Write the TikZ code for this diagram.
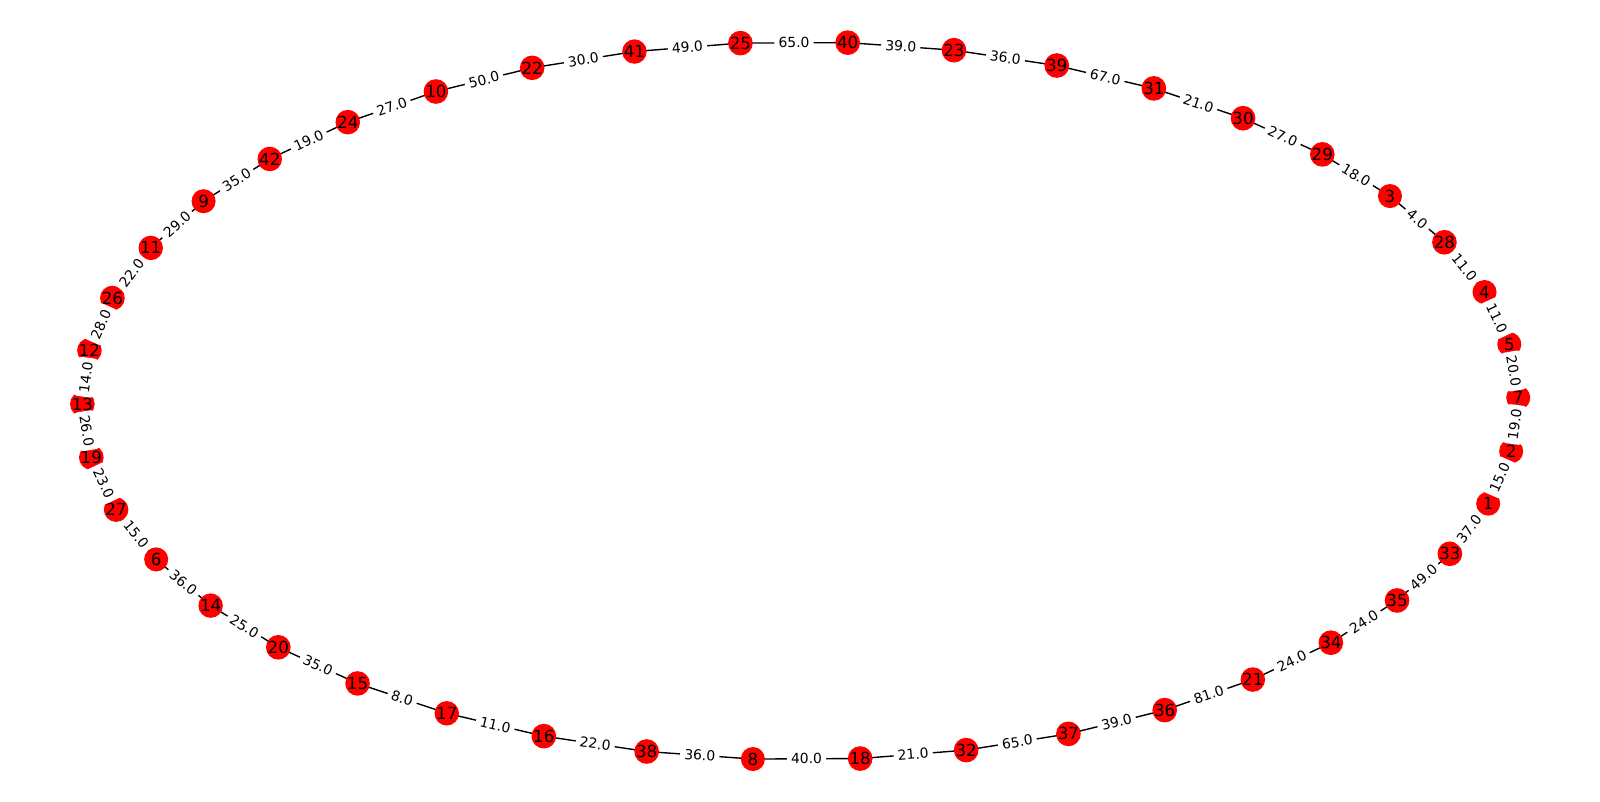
\documentclass[tikz,border=0pt]{standalone}
\usepackage{fontspec}
\setmainfont{DejaVu Sans}
\pgfdeclarelayer{bg}
\pgfsetlayers{bg,main}
\tikzset{
  vert/.style={circle, fill=red, draw=none, minimum size=17.32pt, inner sep=0pt, font=\fontsize{12}{14}\selectfont, text=black},
  edgeline/.style={draw=black, line width=1pt},
  elab/.style={fill=white, rounded corners=2pt, inner sep=3pt, font=\fontsize{10}{12}\selectfont, text=black, sloped, midway}
}
\begin{document}
\begin{tikzpicture}[x=0.72pt, y=0.72pt]
\useasboundingbox (0,0) rectangle (1600,802);
\foreach \lab [count=\k from 0] in {7,5,4,28,3,29,30,31,39,23,40,25,41,22,10,24,42,9,11,26,12,13,19,27,6,14,20,15,17,16,38,8,18,32,37,36,21,34,35,33,1,2}
  \node[vert] (n\lab) at ({800.3+718*cos(0.5+\k*360/42)}, {401.15+359*sin(0.5+\k*360/42)}) {\lab};
\begin{pgfonlayer}{bg}
\foreach \a/\b/\w in {7/5/20.0, 5/4/11.0, 4/28/11.0, 28/3/4.0, 3/29/18.0, 29/30/27.0, 30/31/21.0, 31/39/67.0, 39/23/36.0, 23/40/39.0, 40/25/65.0, 25/41/49.0, 41/22/30.0, 22/10/50.0, 10/24/27.0, 24/42/19.0, 42/9/35.0, 9/11/29.0, 11/26/22.0, 26/12/28.0, 12/13/14.0, 13/19/26.0, 19/27/23.0, 27/6/15.0, 6/14/36.0, 14/20/25.0, 20/15/35.0, 15/17/8.0, 17/16/11.0, 16/38/22.0, 38/8/36.0, 8/18/40.0, 18/32/21.0, 32/37/65.0, 37/36/39.0, 36/21/81.0, 21/34/24.0, 34/35/24.0, 35/33/49.0, 33/1/37.0, 1/2/15.0, 2/7/19.0}
  \draw[edgeline] (n\a.center) -- (n\b.center);
\end{pgfonlayer}
\foreach \a/\b/\w in {7/5/20.0, 5/4/11.0, 4/28/11.0, 28/3/4.0, 3/29/18.0, 29/30/27.0, 30/31/21.0, 31/39/67.0, 39/23/36.0, 23/40/39.0, 40/25/65.0, 25/41/49.0, 41/22/30.0, 22/10/50.0, 10/24/27.0, 24/42/19.0, 42/9/35.0, 9/11/29.0, 11/26/22.0, 26/12/28.0, 12/13/14.0, 13/19/26.0, 19/27/23.0, 27/6/15.0, 6/14/36.0, 14/20/25.0, 20/15/35.0, 15/17/8.0, 17/16/11.0, 16/38/22.0, 38/8/36.0, 8/18/40.0, 18/32/21.0, 32/37/65.0, 37/36/39.0, 36/21/81.0, 21/34/24.0, 34/35/24.0, 35/33/49.0, 33/1/37.0, 1/2/15.0, 2/7/19.0}
  \path (n\a.center) -- node[elab] {\w} (n\b.center);
\end{tikzpicture}
\end{document}
